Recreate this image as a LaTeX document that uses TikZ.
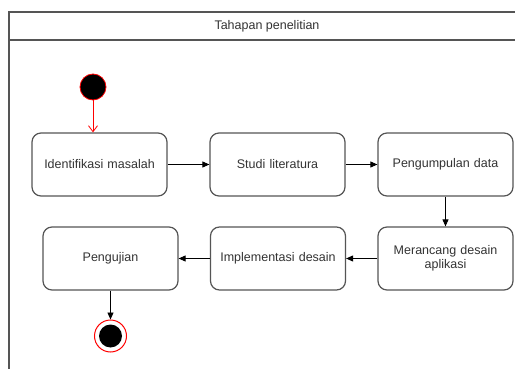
\documentclass[tikz,border=0pt]{standalone}
\usepackage{fontspec}
\setmainfont{Liberation Sans}
\usetikzlibrary{arrows.meta}
\definecolor{txt}{HTML}{333333}
\definecolor{edge}{HTML}{555555}
\definecolor{umlred}{HTML}{FF0000}
\tikzset{
  stepbox/.style={draw=edge, line width=1.2pt, rounded corners=9pt, minimum width=135pt, minimum height=63pt, align=center, text width=125pt, text=txt, font=\fontsize{12.5}{14}\selectfont, inner sep=0pt},
  flow/.style={draw=black, line width=0.9pt, -{Triangle[length=7pt,width=6pt]}},
  framel/.style={draw=edge, line width=1.3pt}
}
\begin{document}
\begin{tikzpicture}[x=1pt,y=-1pt]
\useasboundingbox (0,0) rectangle (515,369);
\fill[white] (0,0) rectangle (515,369);
% frame
\draw[framel] (9,369) -- (9,12) -- (515,12);
\draw[framel] (9,40) -- (515,40);
\node[text=txt, font=\fontsize{12.5}{14}\selectfont] (title) at (267,26) {Tahapan penelitian};
% start
\node[circle, fill=black, draw=umlred, line width=0.8pt, minimum size=26pt, inner sep=0pt] (start) at (93,87) {};
% boxes
\node[stepbox] (b1) at (99.5,164.5) {Identifikasi masalah};
\node[stepbox] (b2) at (277.5,164.5) {Studi literatura};
\node[stepbox] (b3) at (445.5,164.5) {Pengumpulan data};
\node[stepbox] (b4) at (445.5,258.5) {Merancang desain\\aplikasi};
\node[stepbox] (b5) at (278,258.5) {Implementasi desain};
\node[stepbox] (b6) at (110.5,258.5) {Pengujian};
% end
\node[circle, draw=umlred, line width=1pt, fill=white, minimum size=32pt, inner sep=0pt] (endo) at (110.5,336) {};
\node[circle, fill=black, minimum size=23pt, inner sep=0pt] (endi) at (endo) {};
% connectors
\draw[draw=umlred, line width=0.8pt, -{Straight Barb[length=6pt,width=9pt]}] (start.south) -- (start.south |- b1.north);
\draw[flow] (b1) -- (b2);
\draw[flow] (b2) -- (b3);
\draw[flow] (b3) -- (b4);
\draw[flow] (b4) -- (b5);
\draw[flow] (b5) -- (b6);
\draw[flow] (b6) -- (endo);
\end{tikzpicture}
\end{document}
